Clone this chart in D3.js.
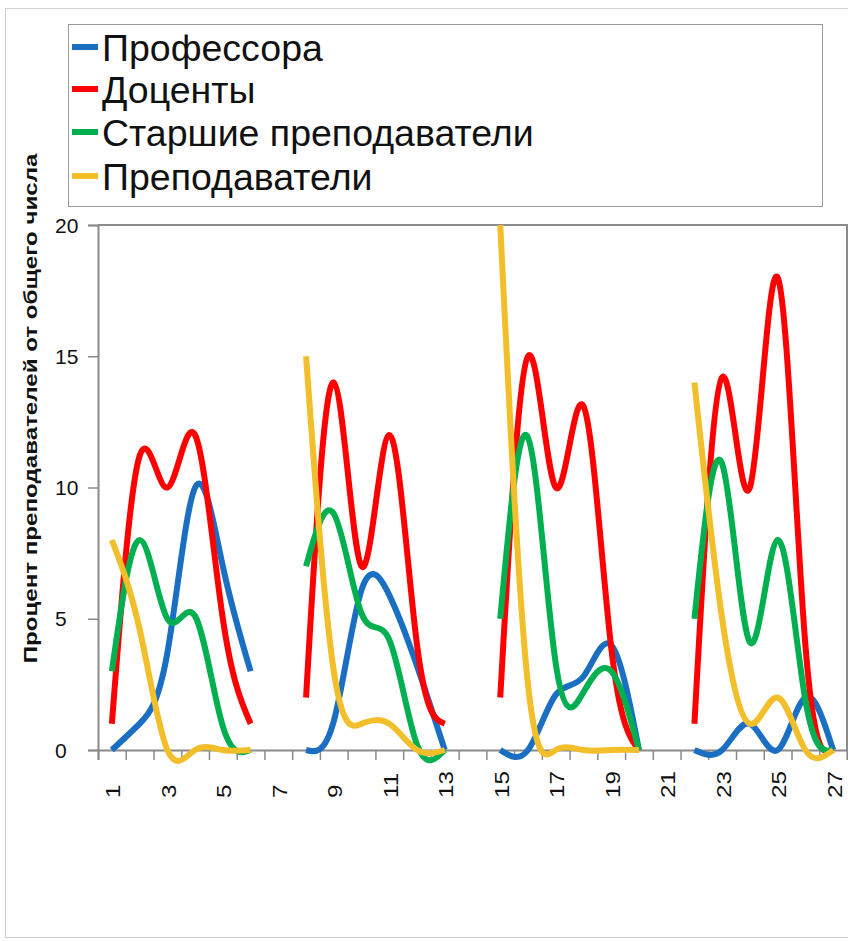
<!DOCTYPE html>
<html>
<head>
<meta charset="utf-8">
<script src="https://cdn.jsdelivr.net/npm/d3@7"></script>
<style>
  body { margin: 0; background: #fff; }
  svg { display: block; font-family: "Liberation Sans", Arial, sans-serif; }
</style>
</head>
<body>
<div id="chart"></div>
<script>
// categories along the x axis (gaps at 7, 14, 21)
const categories = d3.range(1, 28)
const xTickLabels = [1, 3, 5, 7, 9, 11, 13, 15, 17, 19, 21, 23, 25, 27]
const yTicks = [0, 5, 10, 15, 20]

const seriesNames = ['Профессора', 'Доценты', 'Старшие преподаватели', 'Преподаватели']
const seriesColors = ['#1a6fc2', '#ff0000', '#00b050', '#f2bf2a']

const professors = [0, 1, 3.7, 10, 7, 3, null, 0, 1.1, 6.1, 5.9, 3.2, 0, null, 0, 0, 2.1, 2.8, 4, 0, null, 0, 0, 1, 0, 2, 0]
const docents    = [1, 11.2, 10, 12, 5, 1, null, 2, 14, 7, 12, 4, 1, null, 2, 15, 10, 13.1, 3.9, 0, null, 1, 14.2, 10, 18, 4, 0]
const seniors    = [3, 8, 5, 5.1, 0.9, 0, null, 7, 9, 5.2, 4.2, 0.2, 0, null, 5, 11.9, 3.3, 2.2, 3, 0, null, 5, 10.9, 4.1, 8, 1.9, 0]
const lecturers  = [8, 4.6, 0, 0, 0, 0, null, 15, 3, 1, 1, 0, 0, null, 20, 2.5, 0, 0, 0, 0, null, 14, 5, 1, 2, 0, 0]

const seriesValues = [professors, docents, seniors, lecturers]

const width = 848, height = 941
const plot = {left: 98, right: 847, top: 225, bottom: 750}

const svg = d3.select('#chart').append('svg')
    .attr('width', width)
    .attr('height', height)

// outer frame
svg.append('rect')
    .attr('x', 5.5).attr('y', 8.5)
    .attr('width', 900).attr('height', 929)
    .attr('fill', 'none')
    .attr('stroke', '#cfcfcf')

const x = d3.scaleLinear()
    .domain([0.5, categories.length + 0.5])
    .range([plot.left, plot.right])

const y = d3.scaleLinear()
    .domain([0, 20])
    .range([plot.bottom, plot.top])

// plot frame (top + right)
svg.append('path')
    .attr('d', `M${plot.left},${plot.top}H${plot.right}V${plot.bottom}`)
    .attr('fill', 'none')
    .attr('stroke', '#8a8a8a')
    .attr('stroke-width', 2)

// y axis
const yAxis = d3.axisLeft(y).tickValues(yTicks).tickSize(10).tickFormat('')
const yG = svg.append('g')
    .attr('transform', `translate(${plot.left},0)`)
    .call(yAxis)
yG.select('.domain').attr('stroke', '#8a8a8a').attr('stroke-width', 2)
yG.selectAll('.tick line').attr('stroke', '#8a8a8a').attr('stroke-width', 1.5)

svg.append('g').selectAll('text')
    .data(yTicks)
    .enter()
    .append('text')
    .attr('x', 55)
    .attr('y', d => y(d))
    .attr('dy', '0.36em')
    .style('font-size', '21px')
    .attr('fill', '#111')
    .text(d => d)

// x axis: tick marks on category boundaries
const xAxis = d3.axisBottom(x)
    .tickValues(d3.range(0.5, categories.length + 1, 1))
    .tickSize(10)
    .tickFormat('')
const xG = svg.append('g')
    .attr('transform', `translate(0,${plot.bottom})`)
    .call(xAxis)
xG.select('.domain').attr('stroke', '#8a8a8a').attr('stroke-width', 2)
xG.selectAll('.tick line').attr('stroke', '#8a8a8a').attr('stroke-width', 1.5)

svg.append('g').selectAll('text')
    .data(xTickLabels)
    .enter()
    .append('text')
    .attr('transform', d => `translate(${x(d) + 1},798) rotate(-90) scale(1.15,1)`)
    .attr('dy', '0.36em')
    .style('font-size', '21px')
    .attr('fill', '#111')
    .text(d => d)

// y axis title
svg.append('text')
    .attr('transform', `translate(30,${(152 + 665) / 2}) rotate(-90) scale(1.27,1)`)
    .attr('text-anchor', 'middle')
    .attr('dy', '0.36em')
    .style('font-size', '19px')
    .style('font-weight', 'bold')
    .attr('fill', '#111')
    .text('Процент преподавателей от общего числа')

// lines
const line = d3.line()
    .defined(d => d.v !== null)
    .x(d => x(d.c))
    .y(d => y(d.v))
    .curve(d3.curveNatural)

const lines = svg.append('g').attr('class', 'lines')
seriesValues.forEach((vals, i) => {
    const pts = categories.map((c, j) => ({c: c, v: vals[j]}))
    lines.append('path')
        .datum(pts)
        .attr('d', line)
        .attr('fill', 'none')
        .attr('stroke', seriesColors[i])
        .attr('stroke-width', 6)
        .attr('stroke-linejoin', 'round')
})

// legend
const legend = svg.append('g')
legend.append('rect')
    .attr('x', 68.5).attr('y', 24.5)
    .attr('width', 754).attr('height', 182)
    .attr('fill', '#fff')
    .attr('stroke', '#9a9a9a')

const rows = [47, 89, 132, 176]
seriesNames.forEach((name, i) => {
    legend.append('line')
        .attr('x1', 72).attr('x2', 98)
        .attr('y1', rows[i]).attr('y2', rows[i])
        .attr('stroke', seriesColors[i])
        .attr('stroke-width', 6)
    legend.append('text')
        .attr('x', 102)
        .attr('y', rows[i])
        .attr('dy', '0.36em')
        .style('font-size', '37.5px')
        .attr('fill', '#111')
        .text(name)
})
</script>
</body>
</html>
